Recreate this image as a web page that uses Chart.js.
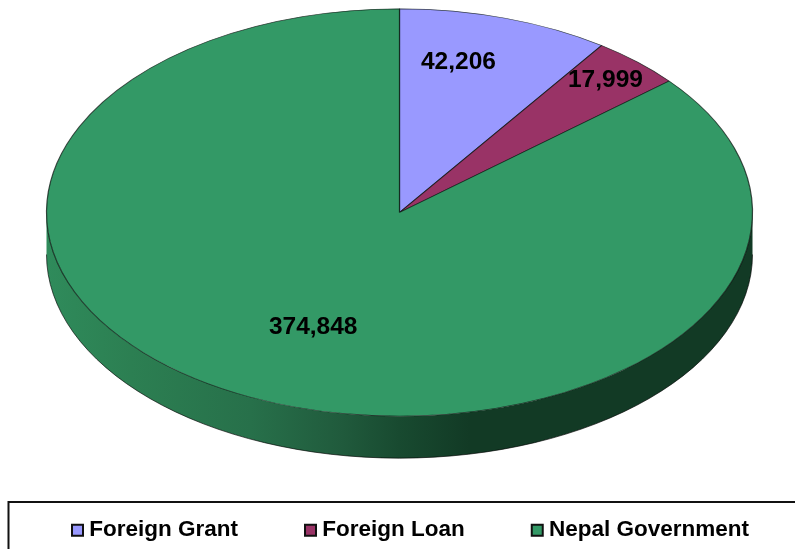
<!DOCTYPE html>
<html>
<head>
<meta charset="utf-8">
<style>html,body{margin:0;padding:0;background:#fff;overflow:hidden}canvas{display:block}</style>
<script src="https://cdn.jsdelivr.net/npm/chart.js@4"></script>
</head>
<body>
<canvas id="c" width="795" height="549"></canvas>
<script>
const categories = ['Foreign Grant', 'Foreign Loan', 'Nepal Government'];
const values = [42206, 17999, 374848];
const valueLabels = ['42,206', '17,999', '374,848'];
const sliceColors = ['#9999FF', '#993366', '#339966'];

const RX = 353, DEPTH = 42;
const labelShift = [[6, -53], [87, -57], [-12, 22]];
const sideStops = [[0, '#2f8b5b'], [0.12, '#2c7f52'], [0.29, '#27704a'], [0.42, '#205a3c'], [0.50, '#184a30'], [0.60, '#123a25'], [1, '#123a25']];

const pie3d = {
  id: 'pie3d',
  afterLayout(chart) {
    const lg = chart.legend;
    lg.maxWidth = 1200;
    lg.fit();
    lg.top = 447; lg.bottom = 549;
    lg.left = 5; lg.right = 1200;
  },
  beforeDatasetsDraw(chart) {
    const ctx = chart.ctx, arcs = chart.getDatasetMeta(0).data;
    const cx = arcs[0].x, cy = arcs[0].y, ry = arcs[0].outerRadius;
    const g = ctx.createLinearGradient(cx - RX, 0, cx + RX, 0);
    sideStops.forEach(s => g.addColorStop(s[0], s[1]));
    arcs.forEach(a => {
      const s = Math.max(a.startAngle, 0), e = Math.min(a.endAngle, Math.PI);
      if (e <= s) return;
      ctx.beginPath();
      ctx.ellipse(cx, cy, RX, ry, 0, s, e);
      ctx.ellipse(cx, cy + DEPTH, RX, ry, 0, e, s, true);
      ctx.closePath();
      ctx.fillStyle = g;
      ctx.fill();
      ctx.beginPath();
      ctx.ellipse(cx, cy + DEPTH, RX, ry, 0, s, e);
      ctx.strokeStyle = 'rgba(0,0,0,0.8)';
      ctx.lineWidth = 0.8;
      ctx.stroke();
    });
    ctx.save();
    ctx.translate(cx, cy);
    ctx.scale(RX / ry, 1);
    ctx.translate(-cx, -cy);
  },
  afterDatasetsDraw(chart) {
    const ctx = chart.ctx, arcs = chart.getDatasetMeta(0).data;
    ctx.restore();
    ctx.save();
    ctx.font = 'bold 24.5px "Liberation Sans", Arial, sans-serif';
    ctx.fillStyle = '#000';
    ctx.textAlign = 'center';
    ctx.textBaseline = 'middle';
    arcs.forEach((a, i) => {
      const p = a.getCenterPoint();
      const x = a.x + (p.x - a.x) * RX / a.outerRadius + labelShift[i][0];
      const y = p.y + labelShift[i][1];
      ctx.fillText(valueLabels[i], x, y);
    });
    ctx.restore();
  },
  afterDraw(chart) {
    const ctx = chart.ctx;
    ctx.save();
    ctx.strokeStyle = '#111';
    ctx.lineWidth = 2;
    ctx.beginPath();
    ctx.moveTo(8.5, 549);
    ctx.lineTo(8.5, 502);
    ctx.lineTo(795, 502);
    ctx.stroke();
    ctx.restore();
  }
};

new Chart(document.getElementById('c'), {
  type: 'pie',
  data: {
    labels: categories,
    datasets: [{
      data: values,
      backgroundColor: sliceColors,
      borderColor: 'rgba(10,20,15,0.75)',
      borderWidth: 0.7,
      clip: false
    }]
  },
  options: {
    responsive: false,
    animation: false,
    events: [],
    layout: { padding: { top: 8.5, left: 4, right: 0, bottom: 112.5 } },
    plugins: {
      tooltip: { enabled: false },
      legend: {
        position: 'bottom',
        align: 'start',
        maxHeight: 20,
        labels: {
          font: { family: '"Liberation Sans", Arial, sans-serif', size: 22.5, weight: 'bold' },
          color: '#000',
          usePointStyle: true,
          pointStyle: 'rect',
          boxWidth: 1,
          boxHeight: 11,
          padding: 72,
          generateLabels: () => categories.map((t, i) => ({
            text: t, fillStyle: sliceColors[i], strokeStyle: '#111', lineWidth: 2,
            pointStyle: 'rect', hidden: false, index: i
          }))
        }
      }
    }
  },
  plugins: [pie3d]
});
</script>
</body>
</html>
